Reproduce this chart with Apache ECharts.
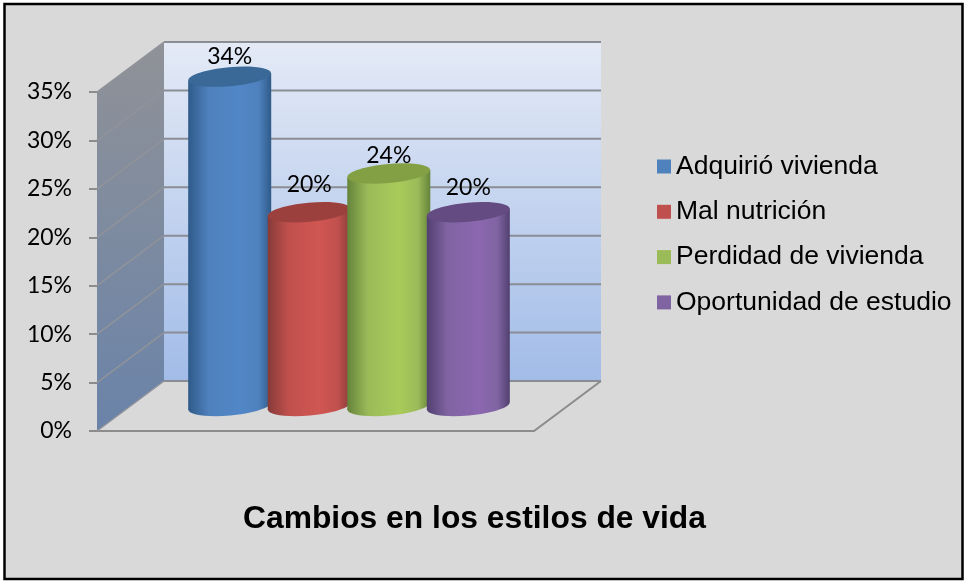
<!DOCTYPE html>
<html>
<head>
<meta charset="utf-8">
<script src="https://cdn.jsdelivr.net/npm/echarts@6/dist/echarts.min.js"></script>
<style>
html,body{margin:0;padding:0;background:#fff;}
#main{width:964px;height:581px;}
</style>
</head>
<body>
<div id="main"></div>
<script>
var categories = ['Adquirió vivienda', 'Mal nutrición', 'Perdidad de vivienda', 'Oportunidad de estudio'];
var values = [34, 20, 24, 20];
var yTicks = [0, 5, 10, 15, 20, 25, 30, 35];

var colors = ['#4F81BD', '#C0504D', '#9BBB59', '#8064A2'];
var edgeColors = ['#2F5B8A', '#863B39', '#66843A', '#524070'];
var midColors = ['#5187C7', '#D05652', '#A8CB5A', '#8B67B0'];
var topColors = ['#3A6897', '#9C403D', '#83A045', '#644B82'];
var labelGaps = [20, 28, 18, 25];

// 3d depth of the box
var depthX = 67;
var depthY = 50;
// the cylinder ends lean a little to the right
var tilt = 0.09;

function wallItem(params, api) {
	var p = api.coord([0, api.value(0)]);
	var band = api.size([1, 0])[0];
	var left = p[0] - band / 2;
	var right = p[0] + band / 2;
	var children = [];
	if (params.dataIndex == 0) {
		var bottom = p[1];
		var top = api.coord([0, 35])[1];
		children.push({
			type: 'polygon',
			shape: {points: [[left + depthX, top - depthY], [right + depthX, top - depthY], [right + depthX, bottom - depthY], [left + depthX, bottom - depthY]]},
			style: {fill: new echarts.graphic.LinearGradient(0, 0, 0, 1, [{offset: 0, color: '#E4EAF6'}, {offset: 1, color: '#A2BCE8'}])}
		});
		children.push({
			type: 'polygon',
			shape: {points: [[left, top], [left + depthX, top - depthY], [left + depthX, bottom - depthY], [left, bottom]]},
			style: {fill: new echarts.graphic.LinearGradient(0, 0, 0, 1, [{offset: 0, color: '#909297'}, {offset: 1, color: '#6A83A9'}])}
		});
		// floor edges
		children.push({
			type: 'polyline',
			shape: {points: [[left, bottom], [right, bottom], [right + depthX, bottom - depthY]]},
			style: {fill: 'none', stroke: '#8C8C8C', lineWidth: 2}
		});
	}
	children.push({
		type: 'line',
		shape: {x1: left, y1: p[1], x2: left + depthX, y2: p[1] - depthY},
		style: {stroke: '#90939A', lineWidth: 1.5}
	});
	children.push({
		type: 'line',
		shape: {x1: left + depthX, y1: p[1] - depthY, x2: right + depthX, y2: p[1] - depthY},
		style: {stroke: '#8A8D94', lineWidth: 2}
	});
	return {type: 'group', children: children};
}

function cylinderItem(i) {
	return function(params, api) {
		var val = api.value(0);
		var band = api.size([1, 0])[0];
		var base = api.coord([0, 0]);
		var head = api.coord([0, val]);
		var cx = base[0] + (i - 1.5) * band * 0.182 + depthX / 2;
		var y0 = base[1] - depthY / 2;
		var y1 = head[1] - depthY / 2;
		var rx = band * 0.095;
		var ry = 9.5;
		var lean = rx * Math.sin(tilt);
		var side = new echarts.graphic.LinearGradient(0, 0, 1, 0, [
			{offset: 0, color: edgeColors[i]},
			{offset: 0.25, color: colors[i]},
			{offset: 0.62, color: midColors[i]},
			{offset: 0.85, color: colors[i]},
			{offset: 1, color: edgeColors[i]}
		]);
		return {
			type: 'group',
			children: [
				{type: 'ellipse', shape: {cx: cx, cy: y0, rx: rx, ry: ry}, rotation: tilt, originX: cx, originY: y0, style: {fill: side}},
				{
					type: 'polygon',
					shape: {points: [[cx - rx, y1 + lean], [cx + rx, y1 - lean], [cx + rx, y0 - lean], [cx - rx, y0 + lean]]},
					style: {fill: side}
				},
				{type: 'ellipse', shape: {cx: cx, cy: y1, rx: rx, ry: ry}, rotation: tilt, originX: cx, originY: y1, style: {fill: topColors[i]}},
				{
					type: 'text',
					z2: 50,
					style: {
						x: cx,
						y: y1 - labelGaps[i],
						text: val + '%',
						align: 'center',
						verticalAlign: 'middle',
						fill: '#000',
						font: '23px Lato'
					}
				}
			]
		};
	};
}

var series = [{
	type: 'custom',
	name: 'paredes',
	renderItem: wallItem,
	data: yTicks.map(function(t) { return [t]; }),
	encode: {x: -1, y: 0},
	silent: true,
	z: 1
}];
for (var i = 0; i < categories.length; i++) {
	series.push({
		type: 'custom',
		name: categories[i],
		renderItem: cylinderItem(i),
		itemStyle: {color: colors[i]},
		data: [[values[i]]],
		encode: {x: -1, y: 0},
		z: 2 + i
	});
}

var chart = echarts.init(document.getElementById('main'));
var option = {
	animation: false,
	backgroundColor: '#fff',
	graphic: [{
		type: 'rect',
		z: -10,
		shape: {x: 4.5, y: 4, width: 958, height: 575},
		style: {fill: '#D9D9D9', stroke: '#000', lineWidth: 2.5}
	}],
	title: {
		text: 'Cambios en los estilos de vida',
		left: 243,
		top: 503,
		padding: 0,
		textStyle: {fontFamily: 'Liberation Sans', fontWeight: 'bold', fontSize: 31.8, color: '#000'}
	},
	legend: {
		data: categories,
		orient: 'vertical',
		left: 657,
		top: 153,
		padding: 0,
		itemWidth: 14,
		itemHeight: 14,
		itemGap: 18.3,
		icon: 'rect',
		textStyle: {fontFamily: 'Liberation Sans', fontSize: 26.5, color: '#000', lineHeight: 26}
	},
	grid: {left: 97, right: 430, top: 92, bottom: 150},
	xAxis: {type: 'category', data: ['estilos'], axisLine: {show: false}, axisTick: {show: false}, axisLabel: {show: false}},
	yAxis: {
		type: 'value',
		min: 0,
		max: 35,
		interval: 5,
		axisLine: {show: false},
		axisTick: {show: true, length: 8, lineStyle: {color: '#8C8C8C', width: 2}},
		splitLine: {show: false},
		axisLabel: {formatter: '{value}%', fontFamily: 'Lato', fontSize: 23, color: '#000', margin: 25, padding: [4, 0, 0, 0]}
	},
	series: series
};
chart.setOption(option);
</script>
</body>
</html>
